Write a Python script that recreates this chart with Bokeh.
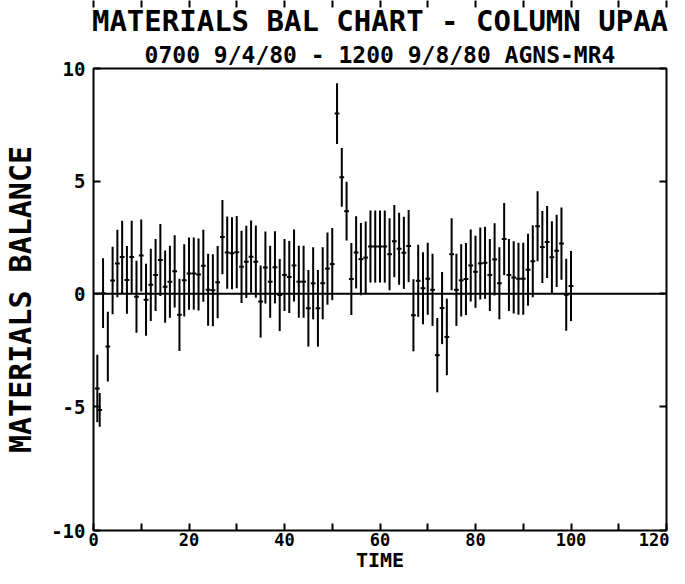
from bokeh.plotting import figure
from bokeh.models import Range1d, FixedTicker, LinearAxis, Title, Span
from bokeh.embed import file_html
from bokeh.resources import INLINE

# ---- data ----
time = [0.8, 1.3, 2, 3, 4, 5, 6, 7, 8, 9, 10,
        11, 12, 13, 14, 15, 16, 17, 18, 19, 20,
        21, 22, 23, 24, 25, 26, 27, 28, 29, 30,
        31, 32, 33, 34, 35, 36, 37, 38, 39, 40,
        41, 42, 43, 44, 45, 46, 47, 48, 49, 50,
        51, 52, 53, 54, 55, 56, 57, 58, 59, 60,
        61, 62, 63, 64, 65, 66, 67, 68, 69, 70,
        71, 72, 73, 74, 75, 76, 77, 78, 79, 80,
        81, 82, 83, 84, 85, 86, 87, 88, 89, 90,
        91, 92, 93, 94, 95, 96, 97, 98, 99, 100]

balance = [-4.2, -5.15, 0.03, -2.34, 0.59, 1.35, 1.64, 0.62, 1.64, -0.13, 1.7,
           -0.26, 0.4, 0.84, 1.5, 0.32, 0.54, 1.0, -0.93, 0.6, 0.9,
           0.9, 0.86, 1.25, 0.18, 0.16, 0.52, 2.52, 1.83, 1.8, 1.85,
           1.2, 1.42, 1.65, 1.43, -0.34, 1.17, 0.54, 1.18, -0.05, 0.84,
           0.75, 1.26, 0.54, 0.54, -0.64, 0.47, -0.64, 0.47, 1.12, 1.32,
           8.0, 5.17, 3.67, 0.66, 1.84, 1.54, 1.61, 2.1, 2.1, 2.1,
           2.1, 1.76, 2.34, 2.0, 1.82, 2.12, -0.95, 0.58, 0.25, 0.67,
           0.18, -2.72, -0.63, -1.91, 1.76, 0.18, 0.6, 0.66, 1.26, 0.98,
           1.35, 1.38, 0.84, 1.53, 0.47, 2.43, 0.84, 0.73, 0.67, 0.67,
           1.07, 1.45, 3.0, 2.08, 2.3, 1.62, 1.91, 2.23, -0.04, 0.35]

error = [1.5, 0.75, 1.55, 1.55, 1.5, 1.5, 1.6, 1.5, 1.6, 1.6, 1.6,
         1.6, 1.6, 1.6, 1.6, 1.6, 1.6, 1.6, 1.6, 1.6, 1.6,
         1.6, 1.6, 1.6, 1.6, 1.6, 1.6, 1.65, 1.6, 1.6, 1.6,
         1.6, 1.6, 1.6, 1.6, 1.6, 1.6, 1.6, 1.6, 1.6, 1.6,
         1.6, 1.6, 1.6, 1.6, 1.7, 1.6, 1.7, 1.6, 1.6, 1.6,
         1.35, 1.3, 1.3, 1.6, 1.6, 1.6, 1.6, 1.6, 1.6, 1.6,
         1.6, 1.6, 1.6, 1.6, 1.6, 1.6, 1.6, 1.6, 1.6, 1.6,
         1.6, 1.65, 1.6, 1.7, 1.6, 1.6, 1.6, 1.6, 1.6, 1.6,
         1.6, 1.6, 1.6, 1.6, 1.6, 1.6, 1.6, 1.6, 1.6, 1.6,
         1.6, 1.6, 1.55, 1.6, 1.6, 1.6, 1.6, 1.6, 1.6, 1.55]

x_major = [0, 20, 40, 60, 80, 100, 120]
x_minor = [10, 30, 50, 70, 90, 110]
y_ticks = [-10.5, -5, 0, 5, 10]
y_labels = {-10.5: "-10", -5: "-5", 0: "0", 5: "5", 10: "10"}

title_text = "MATERIALS BAL CHART - COLUMN UPAA"
subtitle_text = "0700 9/4/80 - 1200 9/8/80 AGNS-MR4"
x_label = "TIME"
y_label = "MATERIALS BALANCE"

FONT = "DejaVu Sans Mono"

p = figure(width=669, height=568, output_backend="svg", toolbar_location=None,
           x_range=Range1d(0, 120), y_range=Range1d(y_ticks[0], 10),
           min_border_left=91, min_border_right=3, min_border_top=5,
           min_border_bottom=0, title=None)
p.background_fill_color = "white"
p.border_fill_color = "white"
p.outline_line_color = "black"
p.outline_line_width = 2
p.grid.visible = False

# titles: subtitle first (closest to plot), then main title
p.add_layout(Title(text=subtitle_text, align="center", text_font=FONT,
                   text_font_size="23px", text_font_style="bold",
                   text_color="black", standoff=2), "above")
p.add_layout(Title(text=title_text, align="center", text_font=FONT,
                   text_font_size="29px", text_font_style="bold",
                   text_color="black", standoff=2), "above")

def style_axis(ax, show_labels):
    ax.axis_line_color = None
    ax.major_tick_in = 7
    ax.major_tick_out = 0
    ax.minor_tick_in = 7
    ax.minor_tick_out = 0
    ax.major_tick_line_width = 2
    ax.minor_tick_line_width = 2
    ax.major_tick_line_color = "black"
    ax.minor_tick_line_color = "black"
    ax.major_label_text_font = FONT
    ax.major_label_text_color = "black"
    if show_labels:
        ax.major_label_text_font_style = "bold"
        ax.axis_label_text_font = FONT
        ax.axis_label_text_font_style = "bold"
        ax.axis_label_text_color = "black"
    else:
        ax.major_label_text_font_size = "1px"
        ax.major_label_standoff = 0

xa = p.xaxis[0]
xa.ticker = FixedTicker(ticks=x_major, minor_ticks=x_minor)
style_axis(xa, True)
xa.major_label_text_font_size = "17px"
xa.major_label_standoff = 2

ya = p.yaxis[0]
ya.ticker = FixedTicker(ticks=y_ticks)
ya.major_label_overrides = y_labels
style_axis(ya, True)
ya.major_label_text_font_size = "19px"
ya.axis_label = y_label
ya.axis_label_text_font_size = "30px"
ya.major_label_standoff = 8
ya.axis_label_standoff = 10

top = LinearAxis(ticker=FixedTicker(ticks=x_major, minor_ticks=x_minor))
style_axis(top, False)
top.major_label_overrides = {t: "" for t in x_major}
p.add_layout(top, "above")

right = LinearAxis(ticker=FixedTicker(ticks=y_ticks))
style_axis(right, False)
right.major_label_overrides = {t: "" for t in y_ticks}
p.add_layout(right, "right")

# x-axis title as a compact title below the tick labels
p.add_layout(Title(text=x_label, align="center", text_font=FONT,
                   text_font_size="20px", text_font_style="bold",
                   text_color="black", standoff=-6), "below")

p.add_layout(Span(location=0, dimension="width", line_color="black", line_width=2))

lower = [b - e for b, e in zip(balance, error)]
upper = [b + e for b, e in zip(balance, error)]
left_edge = [t - 0.5 for t in time]
right_edge = [t + 0.5 for t in time]

p.segment(x0=time, y0=lower, x1=time, y1=upper, line_color="black", line_width=2)
p.segment(x0=left_edge, y0=balance, x1=right_edge, y1=balance, line_color="black", line_width=2)

open("out.html", "w").write(file_html(p, INLINE))
